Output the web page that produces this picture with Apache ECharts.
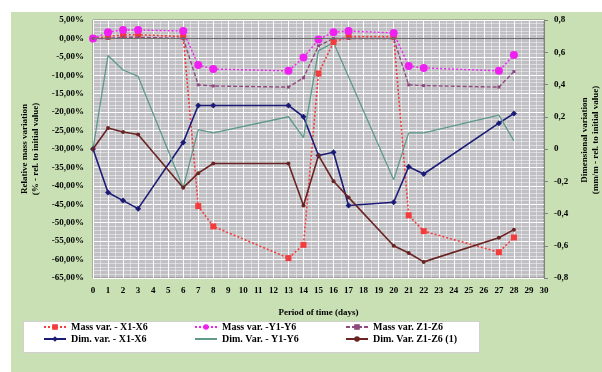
<!DOCTYPE html>
<html>
<head>
<meta charset="utf-8">
<script src="https://cdn.jsdelivr.net/npm/echarts@6/dist/echarts.min.js"></script>
<style>
  body { margin: 0; background: #ffffff; }
  #chart { position: absolute; left: 11px; top: 12px; width: 591px; height: 360px; background: #c8e0b4; }
</style>
</head>
<body>
<div id="chart"></div>
<script>
// measurement days
const days = [0, 1, 2, 3, 6, 7, 8, 13, 14, 15, 16, 17, 20, 21, 22, 27, 28];
const daysDimY = [0, 1, 2, 3, 6, 7, 8, 13, 14, 15, 16, 20, 21, 22, 27, 28];

// mass variation (%), left axis
const massX = [0, 0.5, 1, 1, 0.5, -45.5, -51, -59.6, -56, -9.5, -1, 0.5, 0.5, -48, -52.3, -58, -54];
const massY = [0, 1.7, 2.3, 2.3, 2, -7.2, -8.3, -8.8, -5.2, -0.3, 1.7, 2, 1.5, -7.5, -8, -8.8, -4.5];
const massZ = [0, 0, 0.3, 0.3, 0, -12.6, -12.9, -13.2, -10.7, -2, 0, 0, 0, -12.6, -12.8, -13.2, -9];

// dimensional variation (mm/m), right axis
const dimX = [0, -0.27, -0.32, -0.37, 0.04, 0.27, 0.27, 0.27, 0.2, -0.04, -0.02, -0.35, -0.33, -0.11, -0.155, 0.16, 0.22];
const dimY = [0, 0.58, 0.49, 0.45, -0.24, 0.12, 0.1, 0.2, 0.07, 0.61, 0.66, -0.19, 0.1, 0.1, 0.21, 0.05];
const dimZ = [0, 0.13, 0.105, 0.09, -0.24, -0.15, -0.09, -0.09, -0.35, -0.04, -0.2, -0.3, -0.6, -0.645, -0.7, -0.55, -0.5];

const seriesNames = [
  "Mass var. - X1-X6", "Mass var. -Y1-Y6", "Mass var. Z1-Z6",
  "Dim. var. - X1-X6", "Dim. Var. - Y1-Y6", "Dim. Var. Z1-Z6 (1)"
];

const pairs = (xs, ys) => xs.map((x, i) => [x, ys[i]]);
const font = "Liberation Serif";
const tickFont = { fontFamily: font, fontWeight: "bold", fontSize: 9, color: "#000" };

const chart = echarts.init(document.getElementById("chart"));
chart.setOption({
  animation: false,
  textStyle: { fontFamily: font },
  graphic: [{
    type: "rect",
    left: 12, top: 309,
    shape: { width: 456, height: 31 },
    style: { fill: "#ffffff", stroke: "#d0d0d0", lineWidth: 1 },
    z: 0
  }],
  grid: {
    left: 82, top: 8, right: 58, bottom: 94,
    containLabel: false, outerBoundsMode: "none",
    show: true, backgroundColor: "#bfbfc4", borderColor: "#808080", borderWidth: 1
  },
  legend: {
    left: 32, top: 309, width: 460,
    itemGap: 0, itemWidth: 22, itemHeight: 7,
    padding: 0,
    data: seriesNames.map((n, i) => i === 4 ? { name: n, itemStyle: { opacity: 0 } } : n),
    textStyle: { fontFamily: font, fontWeight: "bold", fontSize: 10, color: "#000", width: 123, lineHeight: 12 }
  },
  xAxis: {
    type: "value", min: 0, max: 30, interval: 1,
    name: "Period of time (days)", nameLocation: "middle", nameGap: 30,
    nameTextStyle: { fontFamily: font, fontWeight: "bold", fontSize: 9, color: "#000" },
    axisLine: { show: false },
    axisTick: { show: false },
    axisLabel: Object.assign({ margin: 8 }, tickFont),
    splitLine: { show: true, lineStyle: { color: "#ffffff", width: 1 } },
    minorSplitLine: { show: true, lineStyle: { color: "rgba(255,255,255,0.45)", width: 1 } },
    minorTick: { show: false, splitNumber: 2 }
  },
  yAxis: [{
    type: "value", min: -65, max: 5, interval: 5,
    name: "Relative mass variation\n(% - rel. to initial value)",
    nameLocation: "middle", nameGap: 52, nameRotate: 90,
    nameTextStyle: { fontFamily: font, fontWeight: "bold", fontSize: 9, color: "#000", lineHeight: 11 },
    axisLine: { show: false },
    axisTick: { show: false },
    axisLabel: Object.assign({ margin: 9, formatter: (v) => v.toFixed(2).replace(".", ",") + "%" }, tickFont),
    splitLine: { show: true, lineStyle: { color: "#ffffff", width: 1 } },
    minorTick: { show: false, splitNumber: 5 },
    minorSplitLine: { show: true, lineStyle: { color: "rgba(255,255,255,0.45)", width: 1 } }
  }, {
    type: "value", min: -0.8, max: 0.8, interval: 0.2, position: "right",
    name: "Dimensional variation\n(mm/m - rel. to initial value)",
    nameLocation: "middle", nameGap: 35, nameRotate: 90,
    nameTextStyle: { fontFamily: font, fontWeight: "bold", fontSize: 9, color: "#000", lineHeight: 11, padding: [0, 0, 0, 18] },
    axisLine: { show: true, lineStyle: { color: "#808080" } },
    axisTick: { show: true, length: 4, lineStyle: { color: "#808080" } },
    axisLabel: Object.assign({ margin: 10, formatter: (v) => Math.abs(v) < 1e-9 ? "0" : v.toFixed(1).replace(".", ",") }, tickFont),
    splitLine: { show: false }
  }],
  series: [{
    name: seriesNames[0], type: "line", yAxisIndex: 0,
    data: pairs(days, massX),
    symbol: "rect", symbolSize: 6,
    itemStyle: { color: "#f43c3c" },
    lineStyle: { color: "#f43c3c", width: 1.6, type: [2, 2] },
    markLine: {
      silent: true, symbol: "none", label: { show: false },
      lineStyle: { color: "#6e6e6e", type: "solid", width: 1 },
      data: [{ yAxis: 0 }]
    }
  }, {
    name: seriesNames[1], type: "line", yAxisIndex: 0,
    data: pairs(days, massY),
    symbol: "circle", symbolSize: 8,
    itemStyle: { color: "#f020f0" },
    lineStyle: { color: "#f020f0", width: 1.4, type: [2, 2] }
  }, {
    name: seriesNames[2], type: "line", yAxisIndex: 0,
    data: pairs(days, massZ),
    symbol: "rect", symbolSize: 3,
    itemStyle: { color: "#8e4a7e" },
    lineStyle: { color: "#8e4a7e", width: 1.4, type: [4, 2] }
  }, {
    name: seriesNames[3], type: "line", yAxisIndex: 1,
    data: pairs(days, dimX),
    symbol: "diamond", symbolSize: 6,
    itemStyle: { color: "#1c1c78" },
    lineStyle: { color: "#1c1c78", width: 1.6 }
  }, {
    name: seriesNames[4], type: "line", yAxisIndex: 1,
    data: pairs(daysDimY, dimY),
    symbol: "none",
    itemStyle: { color: "#5f9a8a" },
    lineStyle: { color: "#5f9a8a", width: 1.3 }
  }, {
    name: seriesNames[5], type: "line", yAxisIndex: 1,
    data: pairs(days, dimZ),
    symbol: "circle", symbolSize: 4,
    itemStyle: { color: "#6a2424" },
    lineStyle: { color: "#6a2424", width: 1.6 }
  }]
});
</script>
</body>
</html>
